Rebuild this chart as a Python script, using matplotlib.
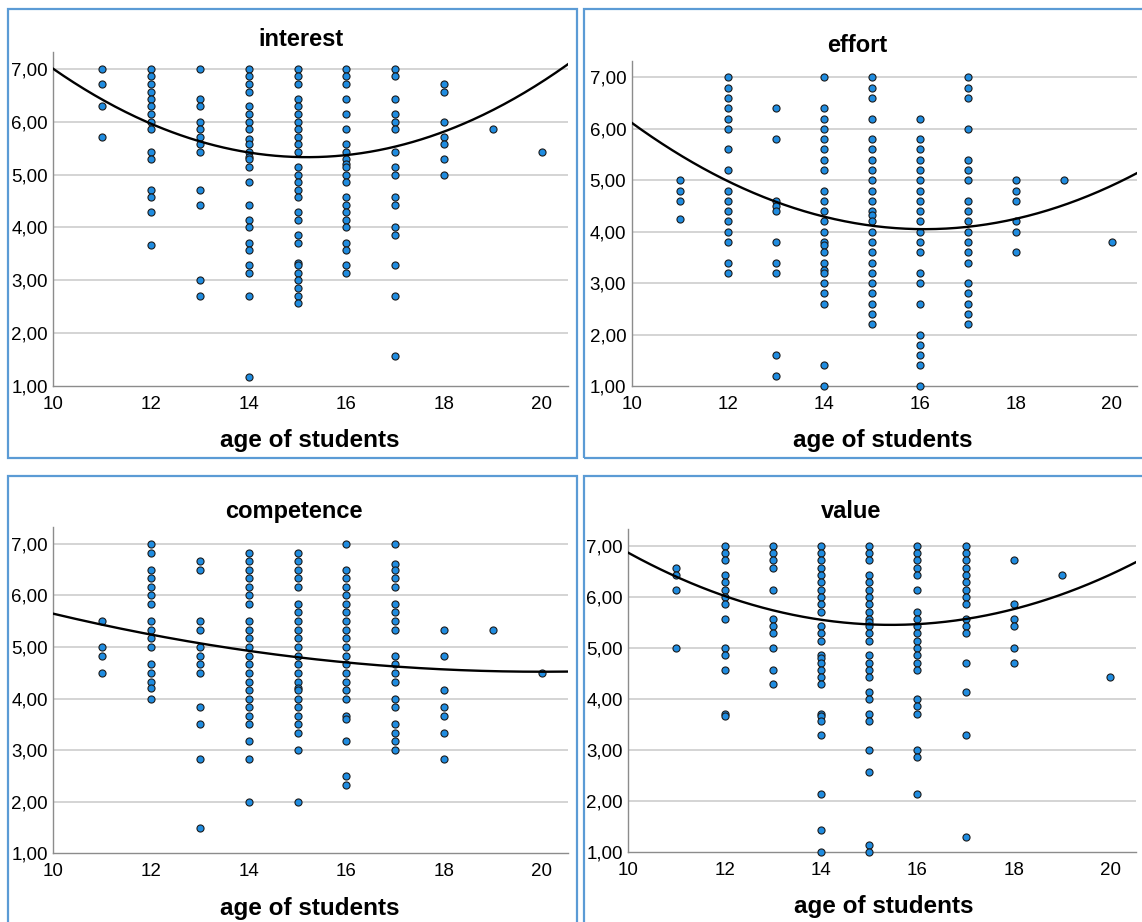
import numpy as np
import matplotlib
matplotlib.use("Agg")
import matplotlib.pyplot as plt
from matplotlib.patches import Rectangle

plt.rcParams['font.family'] = ['Liberation Sans', 'DejaVu Sans']

W, H = 1142, 922

# ---- data -------------------------------------------------------------
ages = [11, 12, 13, 14, 15, 16, 17, 18, 19, 20]

interest = [
    [7.0, 6.71, 6.29, 5.71],
    [7.0, 6.86, 6.71, 6.57, 6.43, 6.29, 6.14, 6.0, 5.86, 5.43, 5.29, 4.71, 4.57, 4.29, 3.67],
    [7.0, 6.43, 6.29, 6.0, 5.86, 5.71, 5.57, 5.43, 4.71, 4.43, 3.0, 2.71],
    [7.0, 6.86, 6.71, 6.57, 6.29, 6.14, 6.0, 5.86, 5.67, 5.57, 5.43, 5.33, 5.29, 5.14,
     4.86, 4.43, 4.14, 4.0, 3.71, 3.57, 3.29, 3.14, 2.71, 1.17],
    [7.0, 6.86, 6.71, 6.43, 6.29, 6.14, 6.0, 5.86, 5.71, 5.57, 5.43, 5.14, 5.0, 4.86,
     4.71, 4.57, 4.29, 4.14, 3.86, 3.71, 3.33, 3.29, 3.14, 3.0, 2.86, 2.71, 2.57],
    [7.0, 6.86, 6.71, 6.43, 6.14, 5.86, 5.57, 5.43, 5.29, 5.2, 5.14, 5.0, 4.86, 4.57,
     4.43, 4.29, 4.14, 4.0, 3.71, 3.57, 3.29, 3.14],
    [7.0, 6.86, 6.43, 6.14, 6.0, 5.86, 5.43, 5.14, 5.0, 4.57, 4.43, 4.0, 3.86, 3.29, 2.71, 1.57],
    [6.71, 6.57, 6.0, 5.71, 5.57, 5.29, 5.0],
    [5.86],
    [5.43],
]

effort = [
    [5.0, 4.8, 4.6, 4.25],
    [7.0, 6.8, 6.6, 6.4, 6.2, 6.0, 5.6, 5.2, 4.8, 4.6, 4.4, 4.2, 4.0, 3.8, 3.4, 3.2],
    [6.4, 5.8, 4.6, 4.5, 4.4, 3.8, 3.4, 3.2, 1.6, 1.2],
    [7.0, 6.4, 6.2, 6.0, 5.8, 5.6, 5.4, 5.2, 4.8, 4.6, 4.4, 4.2, 4.0, 3.8, 3.75, 3.6,
     3.4, 3.25, 3.2, 3.0, 2.8, 2.6, 1.4, 1.0],
    [7.0, 6.8, 6.6, 6.2, 5.8, 5.6, 5.4, 5.2, 5.0, 4.8, 4.6, 4.4, 4.33, 4.2, 4.0, 3.8,
     3.6, 3.4, 3.2, 3.0, 2.8, 2.6, 2.4, 2.2],
    [6.2, 5.8, 5.6, 5.4, 5.2, 5.0, 4.8, 4.6, 4.4, 4.2, 4.0, 3.8, 3.6, 3.2, 3.0, 2.6,
     2.0, 1.8, 1.6, 1.4, 1.0],
    [7.0, 6.8, 6.6, 6.0, 5.4, 5.2, 5.0, 4.6, 4.4, 4.2, 4.0, 3.8, 3.6, 3.4, 3.0, 2.8,
     2.6, 2.4, 2.2],
    [5.0, 4.8, 4.6, 4.2, 4.0, 3.6],
    [5.0],
    [3.8],
]

competence = [
    [5.5, 5.0, 4.83, 4.5],
    [7.0, 6.83, 6.5, 6.33, 6.17, 6.0, 5.83, 5.5, 5.33, 5.17, 5.0, 4.67, 4.5, 4.33, 4.2, 4.0],
    [6.67, 6.5, 5.5, 5.33, 5.0, 4.83, 4.67, 4.5, 3.83, 3.5, 2.83, 1.5],
    [6.83, 6.67, 6.5, 6.33, 6.17, 6.0, 5.83, 5.5, 5.33, 5.17, 5.0, 4.83, 4.67, 4.5,
     4.33, 4.17, 4.0, 3.83, 3.67, 3.5, 3.17, 2.83, 2.0],
    [6.83, 6.67, 6.5, 6.33, 6.17, 5.83, 5.67, 5.5, 5.33, 5.17, 5.0, 4.83, 4.67, 4.5,
     4.33, 4.2, 4.17, 4.0, 3.83, 3.67, 3.5, 3.33, 3.0, 2.0],
    [7.0, 6.5, 6.33, 6.17, 6.0, 5.83, 5.67, 5.5, 5.33, 5.17, 5.0, 4.83, 4.67, 4.5,
     4.33, 4.17, 4.0, 3.67, 3.6, 3.17, 2.5, 2.33],
    [7.0, 6.6, 6.5, 6.33, 6.17, 5.83, 5.67, 5.5, 5.33, 4.83, 4.67, 4.5, 4.33, 4.0,
     3.83, 3.5, 3.33, 3.17, 3.0],
    [5.33, 4.83, 4.17, 3.83, 3.67, 3.33, 2.83],
    [5.33],
    [4.5],
]

value = [
    [6.57, 6.43, 6.14, 5.0],
    [7.0, 6.86, 6.71, 6.43, 6.29, 6.14, 6.0, 5.86, 5.57, 5.0, 4.86, 4.57, 3.71, 3.67],
    [7.0, 6.86, 6.71, 6.57, 6.14, 5.57, 5.43, 5.29, 5.0, 4.57, 4.29],
    [7.0, 6.86, 6.71, 6.57, 6.43, 6.29, 6.14, 6.0, 5.86, 5.71, 5.43, 5.29, 5.14, 4.86,
     4.8, 4.71, 4.57, 4.43, 4.29, 3.71, 3.67, 3.57, 3.29, 2.14, 1.43, 1.0],
    [7.0, 6.86, 6.71, 6.43, 6.29, 6.14, 6.0, 5.86, 5.71, 5.57, 5.5, 5.43, 5.29, 5.14,
     4.86, 4.71, 4.57, 4.43, 4.14, 4.0, 3.71, 3.57, 3.0, 2.57, 1.14, 1.0],
    [7.0, 6.86, 6.71, 6.57, 6.43, 6.14, 5.71, 5.57, 5.43, 5.29, 5.14, 5.0, 4.86, 4.71,
     4.57, 4.0, 3.86, 3.71, 3.0, 2.86, 2.14],
    [7.0, 6.86, 6.71, 6.57, 6.43, 6.29, 6.14, 6.0, 5.86, 5.57, 5.43, 5.29, 4.71, 4.14,
     3.29, 1.29],
    [6.71, 5.86, 5.57, 5.43, 5.0, 4.71],
    [6.43],
    [4.43],
]

# quadratic fit lines in vertex form: (vertex age, vertex score, curvature)
interest_fit = (15.2, 5.33, 0.0618)
effort_fit = (16.1, 4.05, 0.0556)
competence_fit = (20.0, 4.52, 0.01125)
value_fit = (15.45, 5.45, 0.0475)

titles = ["interest", "effort", "competence", "value"]
xlabel = "age of students"
xticks = [10, 12, 14, 16, 18, 20]
yticks = [1, 2, 3, 4, 5, 6, 7]
ytick_labels = ["1,00", "2,00", "3,00", "4,00", "5,00", "6,00", "7,00"]

# ---- layout (pixel boxes) ---------------------------------------------
XLIM = (10, 20.53)
YLIM = (1, 7.32)

# axes boxes: left, right, top, bottom in pixels
axes_px = [
    (53.3, 567.7, 52.0, 386.0),
    (631.7, 1137.1, 61.0, 386.0),
    (53.3, 567.7, 527.3, 853.3),
    (628.3, 1135.8, 529.3, 852.3),
]
frames_px = [
    (8, 577, 9, 458),
    (583.5, 1160, 9, 458),
    (8, 577, 476, 940),
    (583.5, 1160, 476, 940),
]
title_px = [(301, 40), (857, 45), (294, 511), (851, 512)]
xlabel_px = [(310, 440), (883, 440), (310, 908), (884, 906)]

FRAME_COLOR = "#5b9bd5"
DOT_COLOR = "#1f8ce0"
GRID_COLOR = "#d4d4d4"
SPINE_COLOR = "#8c8c8c"

fig = plt.figure(figsize=(W / 100, H / 100), dpi=100)
fig.patch.set_facecolor("white")

datasets = [interest, effort, competence, value]
fits = [interest_fit, effort_fit, competence_fit, value_fit]

for i in range(4):
    l, r, t, b = axes_px[i]
    ax = fig.add_axes([l / W, 1 - b / H, (r - l) / W, (b - t) / H])
    ax.set_xlim(*XLIM)
    ax.set_ylim(*YLIM)

    for y in yticks[1:]:
        ax.axhline(y, color=GRID_COLOR, lw=1.4, zorder=0)

    xs, ys = [], []
    for age, scores in zip(ages, datasets[i]):
        xs.extend([age] * len(scores))
        ys.extend(scores)
    ax.scatter(xs, ys, s=26, color=DOT_COLOR, edgecolor="#1b1b1b",
               linewidth=0.8, zorder=3, clip_on=False)

    h, k, a = fits[i]
    xx = np.linspace(XLIM[0], XLIM[1], 300)
    ax.plot(xx, a * (xx - h) ** 2 + k, color="black", lw=1.7, zorder=4)

    ax.set_xticks(xticks)
    ax.set_xticklabels([str(v) for v in xticks])
    ax.set_yticks(yticks)
    ax.set_yticklabels(ytick_labels)
    ax.tick_params(axis="both", length=0, labelsize=13.5, colors="black")
    ax.tick_params(axis="x", pad=7)
    ax.tick_params(axis="y", pad=4)

    for s in ("top", "right"):
        ax.spines[s].set_visible(False)
    for s in ("left", "bottom"):
        ax.spines[s].set_color(SPINE_COLOR)
        ax.spines[s].set_linewidth(1.0)
    ax.set_facecolor("none")

    fl, fr, ft, fb = frames_px[i]
    fig.patches.append(Rectangle((fl / W, 1 - fb / H), (fr - fl) / W, (fb - ft) / H,
                                 transform=fig.transFigure, fill=False,
                                 edgecolor=FRAME_COLOR, linewidth=1.6))

    tx, ty = title_px[i]
    fig.text(tx / W, 1 - ty / H, titles[i], ha="center", va="center",
             fontsize=17, fontweight="bold")
    lx, ly = xlabel_px[i]
    fig.text(lx / W, 1 - ly / H, xlabel, ha="center", va="center",
             fontsize=17.5, fontweight="bold")

fig.savefig("out.png", dpi=100, facecolor="white")
